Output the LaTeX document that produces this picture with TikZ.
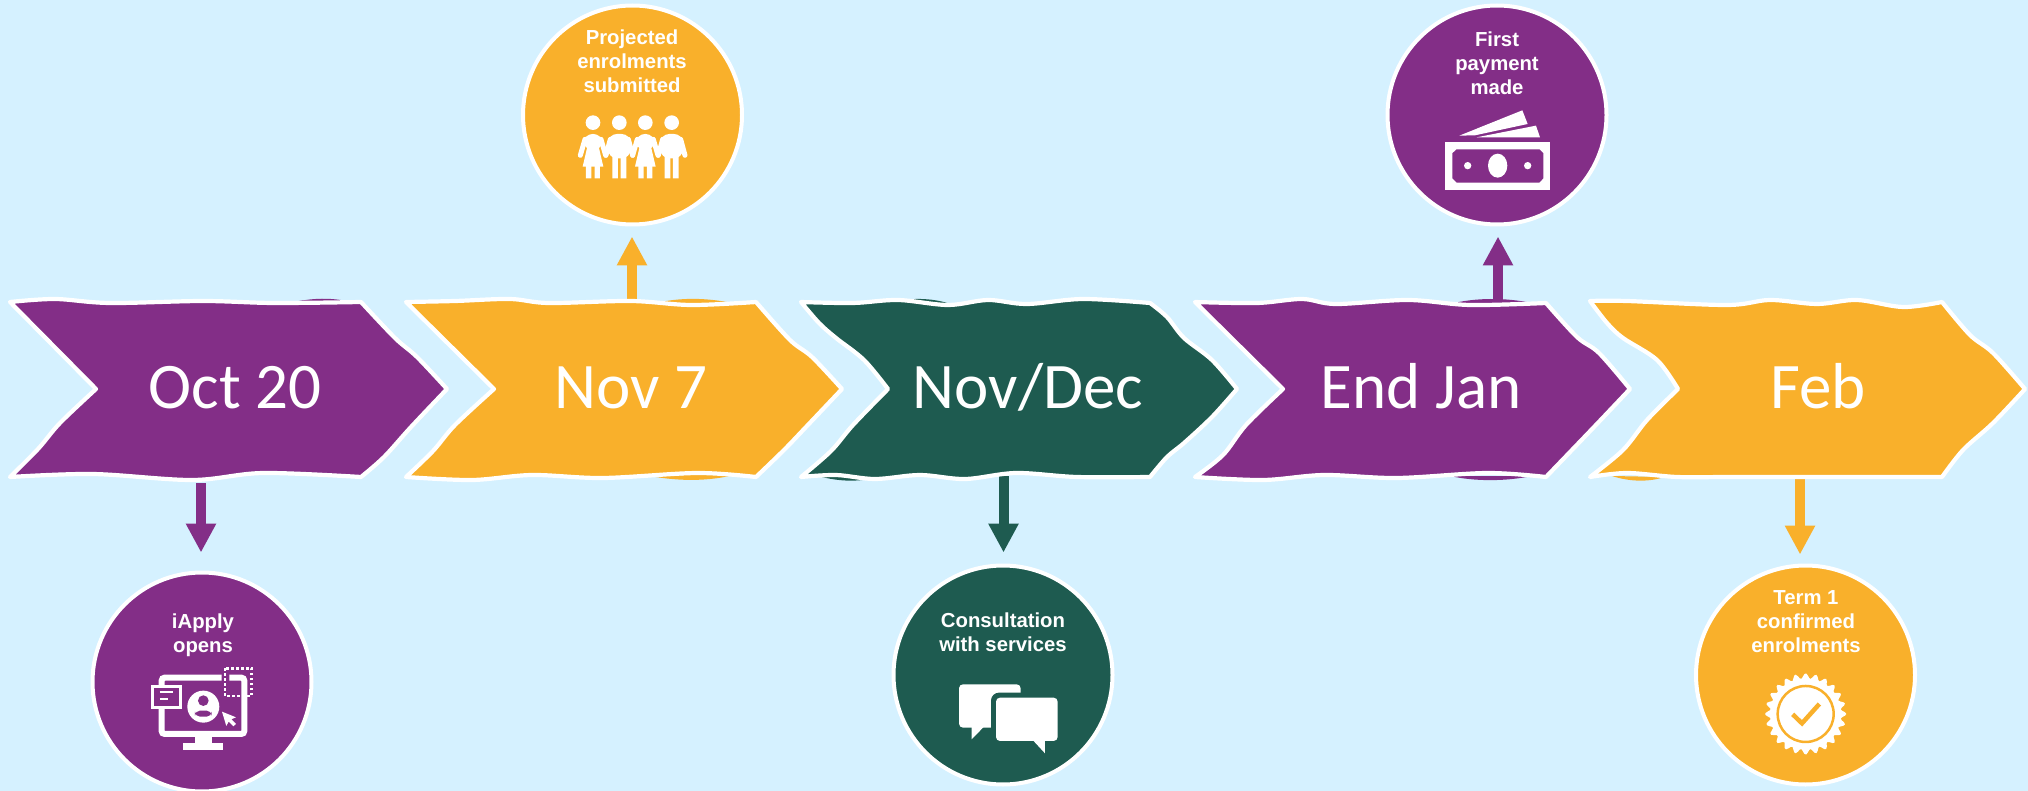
\documentclass[tikz,border=0pt]{standalone}
\usepackage{fontspec}
\usetikzlibrary{arrows.meta}
\setmainfont{Carlito}
\newfontfamily\lblfont{Liberation Sans}
\definecolor{bgblue}{HTML}{D5F1FF}
\definecolor{cpurple}{HTML}{832E87}
\definecolor{corange}{HTML}{F9B02B}
\definecolor{cgreen}{HTML}{1E5B50}
\tikzset{
  chevshape/.style={draw=white,line width=4.2pt,line join=round,fill=#1},
  plotsm/.style={smooth,tension=.55},
  datetext/.style={text=white,inner sep=0pt,anchor=base,font=\fontsize{65}{70}\selectfont},
  dot/.style={circle,draw=white,line width=4pt,fill=#1,minimum size=219pt,inner sep=0pt},
  lbl/.style={text=white,inner sep=0pt,anchor=base,align=center,font=\lblfont\bfseries\fontsize{20.3}{24}\selectfont},
  conn/.style={draw=#1,line width=10pt,-{Triangle[length=29pt,width=28.5pt,fill=#1]}},
  zoomed/.style={shift={#1},x=0.3333pt,y=-0.3333pt}
}
\newcommand{\headfig}[1]{\fill[white] (#1,368) circle (22);}
\newcommand{\boyfig}[1]{%
  \headfig{#1}
  \fill[white,rounded corners=9pt] (#1-34,402) rectangle (#1+34,475);
  \fill[white] (#1-21,460) rectangle (#1-4,535) (#1+4,460) rectangle (#1+21,535);
  \draw[white,line width=5pt,line cap=round] (#1-27,418) -- (#1-40,466) (#1+27,418) -- (#1+40,466);
}
\newcommand{\girlfig}[1]{%
  \headfig{#1}
  \fill[white,rounded corners=9pt] (#1-28,402) rectangle (#1+28,450);
  \fill[white] (#1-17,440) -- (#1+17,440) -- (#1+31,500) -- (#1-31,500) -- cycle;
  \fill[white] (#1-21,495) rectangle (#1-5,535) (#1+5,495) rectangle (#1+21,535);
  \draw[white,line width=5pt,line cap=round] (#1-24,418) -- (#1-38,466) (#1+24,418) -- (#1+38,466);
}
\begin{document}
\begin{tikzpicture}[x=1pt,y=-1pt]
\useasboundingbox (0,0) rectangle (2028,791);
\fill[bgblue] (0,0) rectangle (2028,791);

% circles
\node[dot=cpurple] (c1) at (202,682) {};
\node[dot=corange] (c2) at (632.5,115) {};
\node[dot=cgreen]  (c3) at (1003,675) {};
\node[dot=cpurple] (c4) at (1497,115) {};
\node[dot=corange] (c5) at (1805.5,675) {};

% connector start points on the chevrons
\coordinate (a1) at (201,483);
\coordinate (a2) at (632,300);
\coordinate (a3) at (1003.5,476);
\coordinate (a4) at (1498,301);
\coordinate (a5) at (1800,479);

\draw[conn=cpurple,shorten >=18pt] (a1) -- (a1 |- c1.north);
\draw[conn=corange,shorten >=10pt] (a2) -- (a2 |- c2.south);
\draw[conn=cgreen,shorten >=11pt]  (a3) -- (a3 |- c3.north);
\draw[conn=cpurple,shorten >=10pt] (a4) -- (a4 |- c4.south);
\draw[conn=corange,shorten >=9pt]  (a5) -- (a5 |- c5.north);

% fill that shows past the sketched outline
\fill[cpurple] (288,303) .. controls (315,297.5) and (330,297.5) .. (352,302) -- cycle;
\fill[corange] (656,303) .. controls (680,297.5) and (705,297.5) .. (732,303) -- cycle;
\fill[corange] (650,476) .. controls (680,481.5) and (710,481.5) .. (738,474) -- cycle;
\fill[cgreen] (895,301) .. controls (915,297.5) and (935,298.5) .. (950,304) -- cycle;
\fill[cgreen] (818,476) .. controls (840,482) and (860,482) .. (878,477) -- cycle;
\fill[cgreen] (859,350) .. controls (866,360) and (874,372) .. (880,380) -- cycle;
\fill[cpurple] (1450,304) .. controls (1475,297.5) and (1505,297.5) .. (1532,303) -- cycle;
\fill[cpurple] (1450,476) .. controls (1475,481.5) and (1505,481.5) .. (1532,476) -- cycle;
\fill[corange] (1612,476) .. controls (1630,482) and (1650,482) .. (1664,477) -- cycle;

% chevrons
\path[chevshape=cpurple]
  plot[plotsm] coordinates {(10,302)(55,299)(110,303)(203,301)(274,303)(361,302)}
  -- plot[plotsm] coordinates {(361,302)(395,338)(417,357)(447,389)}
  -- plot[plotsm] coordinates {(447,389)(411,427)(384,457)(361,477)}
  -- plot[plotsm] coordinates {(361,477)(263,473)(192,480)(93,474)(10,477)}
  -- plot[plotsm] coordinates {(10,477)(38,449)(60,423)(96,389)}
  -- cycle;
\path[chevshape=corange]
  plot[plotsm] coordinates {(406,302)(455,301)(510,299)(549,303)(631,301)(691,305)(756,302)}
  -- plot[plotsm] coordinates {(756,302)(790,340)(812,357)(842,389)}
  -- plot[plotsm] coordinates {(842,389)(806,427)(784,450)(756,477)}
  -- plot[plotsm] coordinates {(756,477)(697,473)(603,478)(532,475)(472,480)(406,477)}
  -- plot[plotsm] coordinates {(406,477)(433,451)(455,425)(494,389)}
  -- cycle;
\path[chevshape=cgreen]
  plot[plotsm] coordinates {(801,302)(853,303)(898,300)(948,305)(988,300)(1027,304)(1083,299)(1150,303)}
  -- plot[plotsm] coordinates {(1150,303)(1167,317)(1184,338)(1212,360)(1237,389)}
  -- plot[plotsm] coordinates {(1237,389)(1212,417)(1184,443)(1167,457)(1150,477)}
  -- plot[plotsm] coordinates {(1150,477)(1077,477)(1016,473)(965,479)(920,475)(875,479)(836,475)(801,477)}
  -- plot[plotsm] coordinates {(801,477)(831,451)(853,425)(888,389)}
  -- plot[plotsm] coordinates {(888,389)(864,360)(836,338)(819,323)(801,302)}
  -- cycle;
\path[chevshape=cpurple]
  plot[plotsm] coordinates {(1195,302)(1257,303)(1302,299)(1336,304)(1408,300)(1470,305)(1546,303)}
  -- plot[plotsm] coordinates {(1546,303)(1577,337)(1599,353)(1630,389)}
  -- plot[plotsm] coordinates {(1630,389)(1594,427)(1546,477)}
  -- plot[plotsm] coordinates {(1546,477)(1487,473)(1397,478)(1324,475)(1263,480)(1195,477)}
  -- plot[plotsm] coordinates {(1195,477)(1223,455)(1246,425)(1283,389)}
  -- cycle;
\path[chevshape=corange]
  plot[plotsm] coordinates {(1590,301)(1627,301)(1727,305)(1770,300)(1817,304)(1857,300)(1903,307)(1942,302)}
  -- plot[plotsm] coordinates {(1942,302)(1970,335)(1993,353)(2025,389)}
  -- plot[plotsm] coordinates {(2025,389)(1993,423)(1963,450)(1942,477)}
  -- plot[plotsm] coordinates {(1942,477)(1793,477)(1727,477)(1677,477)(1627,473)(1590,477)}
  -- plot[plotsm] coordinates {(1590,477)(1623,450)(1647,420)(1678,389)}
  -- plot[plotsm] coordinates {(1678,389)(1657,360)(1623,338)(1607,323)(1590,301)}
  -- cycle;

% date labels
\node[datetext] (d1) at (235,408) {Oct 20};
\node[datetext] (d2) at (631,408) {Nov 7};
\node[datetext] (d3) at (1028,408) {Nov/Dec};
\node[datetext] (d4) at (1421,408) {End Jan};
\node[datetext] (d5) at (1818,408) {Feb};

% circle labels (anchored on their last line)
\node[lbl] (t1) at (203,652) {iApply\\opens};
\node[lbl] (t2) at (632,93) {Projected\\enrolments\\submitted};
\node[lbl] (t3) at (1497,95) {First\\payment\\made};
\node[lbl] (t4) at (1003,651) {Consultation\\with services};
\node[lbl] (t5) at (1806,652) {Term 1\\confirmed\\enrolments};

% icon: monitor
\begin{scope}[zoomed={(60,460)}]
  \draw[white,line width=6pt,rounded corners=3pt] (485,653) -- (305,653) -- (305,822) -- (553,822) -- (553,653) -- (508,653);
  \fill[white] (405,822) rectangle (455,855);
  \fill[white] (370,850) rectangle (490,870);
  \draw[white,fill=cpurple,line width=2.4pt] (278,680) rectangle (362,742);
  \draw[white,line width=2.2pt] (300,696) -- (340,696) (300,716) -- (325,716);
  \draw[white,line width=2.5pt,dash pattern=on 2.5pt off 2.5pt] (495,625) rectangle (575,708);
  \fill[white] (430,740) circle (48);
  \fill[cpurple] (430,722) circle (16);
  \fill[cpurple,rounded corners=5pt] (405,770) -- (405,752) -- (455,752) -- (455,770) -- cycle;
  \fill[white] (486,755) -- (528,772) -- (514,778) -- (528,792) -- (520,799) -- (506,785) -- (499,798) -- cycle;
\end{scope}

% icon: people
\begin{scope}[zoomed={(500,0)}]
  \girlfig{279}
  \boyfig{358}
  \girlfig{436}
  \boyfig{515}
\end{scope}

% icon: banknote
\begin{scope}[zoomed={(1360,0)}]
  \fill[white] (298,407) -- (487,331) -- (503,372) -- (345,406) -- cycle;
  \fill[white] (350,412) -- (528,377) -- (540,412) -- cycle;
  \fill[white] (255,427) rectangle (571,569);
  \fill[cpurple] (290,448) -- (538,448) -- (550,460) -- (550,535) -- (538,548) -- (290,548) -- (277,535) -- (277,460) -- cycle;
  \fill[white] (413,497) ellipse [x radius=29,y radius=36];
  \fill[white] (323,497) circle (11) (503,497) circle (11);
\end{scope}

% icon: speech bubbles
\begin{scope}[zoomed={(880,470)}]
  \fill[white,rounded corners=4pt] (237,643) rectangle (422,773);
  \fill[white] (275,770) -- (275,808) -- (312,770) -- cycle;
  \fill[cgreen,rounded corners=8pt] (333,668) rectangle (548,830);
  \fill[white,rounded corners=4pt] (348,683) rectangle (533,813);
  \fill[white] (458,810) -- (495,850) -- (495,810) -- cycle;
\end{scope}

% icon: badge
\begin{scope}[zoomed={(1680,470)}]
  \fill[white] plot[smooth cycle,samples=145,domain=0:357.5] ({377+(114+8*cos(24*\x))*cos(\x)},{732+(114+8*cos(24*\x))*sin(\x)});
  \draw[corange,line width=2.5pt] (377,732) circle (84);
  \draw[corange,line width=4.5pt] (338,733) -- (366,760) -- (418,702);
\end{scope}
\end{tikzpicture}
\end{document}
